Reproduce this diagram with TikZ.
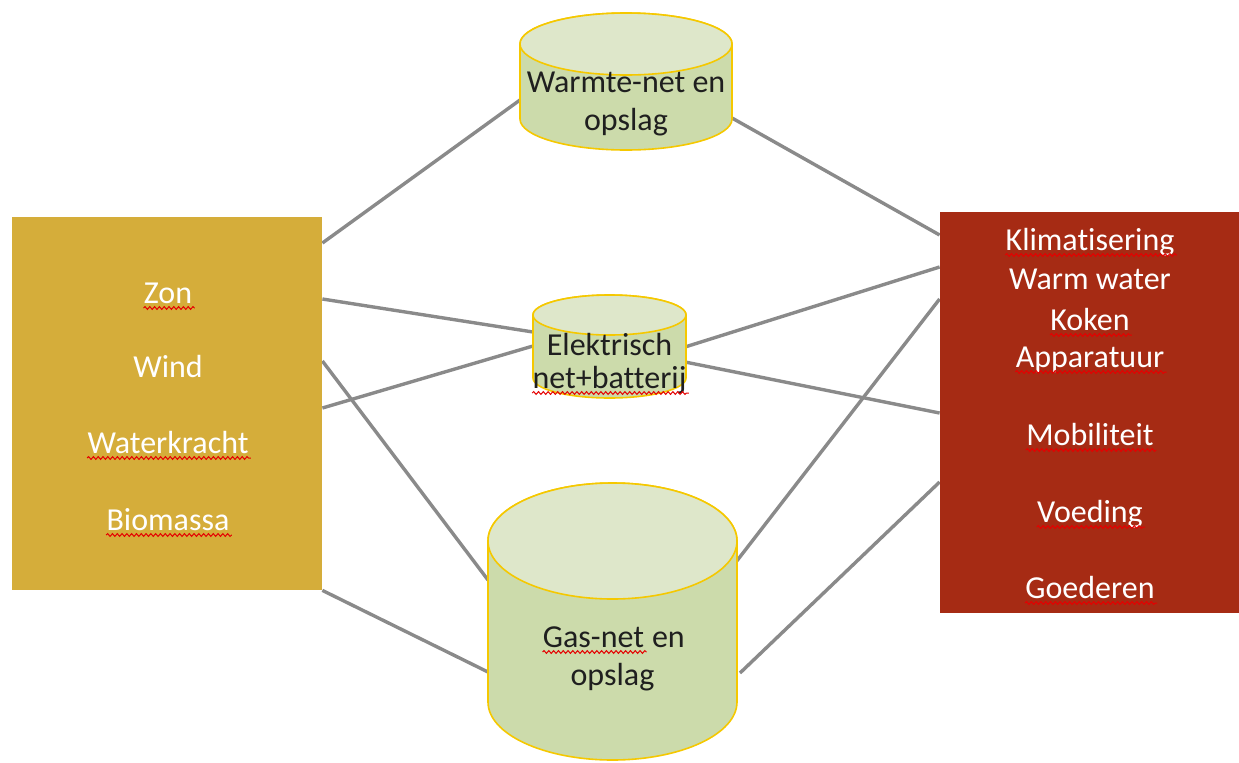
\documentclass[tikz,border=0pt]{standalone}
\usepackage{fontspec}
\setmainfont{Carlito}[Ligatures=NoCommon]
\usetikzlibrary{positioning,decorations.pathmorphing,backgrounds}
\definecolor{goud}{HTML}{D5AD3A}
\definecolor{roest}{HTML}{A62B14}
\definecolor{cylvak}{HTML}{CCDBAB}
\definecolor{cyldek}{HTML}{DEE7CA}
\definecolor{cylrand}{HTML}{F5C800}
\definecolor{lijn}{HTML}{8A8A8A}
\tikzset{
	vlak/.style={draw=none,inner sep=0pt},
	woord/.style={inner sep=0pt,anchor=base,text=white},
	cyltekst/.style={inner sep=0pt,anchor=base,text=black!88},
	cyl/.style={draw=cylrand,line width=.8pt},
	link/.style={draw=lijn,line width=1.7pt},
	spelling/.style={draw=red!90!black,line width=.5pt,decorate,decoration={snake,amplitude=.7pt,segment length=2.4pt}}
}
\begin{document}
\begin{tikzpicture}[x=.5pt,y=-.5pt,font=\fontsize{16}{19}\selectfont]
			\useasboundingbox(0,0)rectangle(1239,762);
			% bronnen en gebruik
			\node[vlak,fill=goud,minimum width=155pt,minimum height=186.5pt](bron)at(167,403.5){};
			\node[vlak,fill=roest,minimum width=149.5pt,minimum height=200.5pt](gebruik)at(1089.5,412.5){};
			\foreach\n/\y/\t in {zon/303/Zon,wind/377/Wind,water/453/Waterkracht,bio/530/Biomassa}{%
			\node[woord](\n)at(168,\y){\t};}
			\foreach\n/\y/\t in {klim/250/Klimatisering,warm/289/Warm water,koken/330/Koken,app/367/Apparatuur,mob/445/Mobiliteit,voed/522/Voeding,goed/598/Goederen}{%
			\node[woord](\n)at(1090,\y){\t};}
			% netten
			\foreach\l/\r/\t/\b/\rx/\ry in {520/732/44/119/53pt/15.5pt,533/686/315/378/38.25pt/10pt,488/737/541/702/62.25pt/29pt}{%
			\draw[cyl,fill=cylvak](\l,\t)--(\l,\b)arc(180:360:{\rx} and {\ry})--(\r,\t)arc(0:180:{\rx} and {\ry})--cycle;%
			\draw[cyl,fill=cyldek](\r,\t)arc(0:360:{\rx} and {\ry});}
			\node[cyltekst](warmte)at(626,92){Warmte-net en};
			\node[cyltekst](warmte2)at(626,130){opslag};
			\node[cyltekst](elek)at(609.5,355){Elektrisch};
			\node[cyltekst](elek2)at(609.5,388){net+batterij};
			\node[cyltekst](gas)at(593.5,647){Gas-net};
			\node[cyltekst,base right=3.6pt of gas](gasen){en};
			\node[cyltekst](gas2)at(612.5,685){opslag};
			\foreach\w in {zon,water,bio,klim,koken,app,mob,voed,goed,elek2,gas}{%
			\draw[spelling]([yshift=-2.5pt]\w.base west)--([yshift=-2.5pt,xshift=1pt]\w.base east);}
			% aansluitpunten
			\coordinate(W1)at(520,100);
			\coordinate(W2)at(732,118);
			\coordinate(E1)at(533,332);
			\coordinate(E2)at(533,346);
			\coordinate(E3)at(685,347);
			\coordinate(E4)at(685,362);
			\coordinate(S1)at(488,580);
			\coordinate(S2)at(488,672);
			\coordinate(S3)at(736,562);
			\coordinate(S4)at(740,673);
			\begin{scope}[on background layer]
			\draw[link](bron.east|-0,243)--(W1);
			\draw[link](bron.east|-0,299)--(E1);
			\draw[link](bron.east|-0,408)--(E2);
			\draw[link](bron.east|-0,361)--(S1);
			\draw[link](bron.south east)--(S2);
			\draw[link](W2)--(gebruik.west|-0,235);
			\draw[link](E3)--(gebruik.west|-0,267);
			\draw[link](E4)--(gebruik.west|-0,413);
			\draw[link](S3)--(gebruik.west|-0,299);
			\draw[link](S4)--(gebruik.west|-0,482);
			\end{scope}
		\end{tikzpicture}
\end{document}
